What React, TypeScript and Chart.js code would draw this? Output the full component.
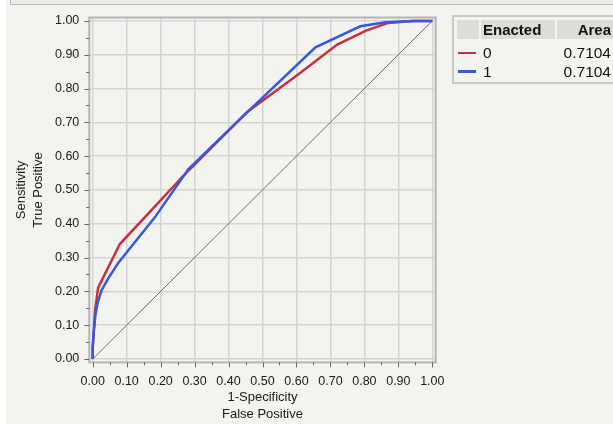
import React, { useEffect, useRef } from "react";
import { Chart, registerables } from "chart.js";

Chart.register(...registerables);

// ROC curve for Enacted = 0
const fprEnacted0 = [0, 0.0, 0.002, 0.007, 0.016, 0.08, 0.169, 0.267, 0.453, 0.6, 0.72, 0.805, 0.87, 0.943, 1.0];
const tprEnacted0 = [0, 0.03, 0.06, 0.144, 0.211, 0.34, 0.436, 0.542, 0.729, 0.838, 0.93, 0.971, 0.994, 1.0, 1.0];
// ROC curve for Enacted = 1
const fprEnacted1 = [0, 0.0, 0.003, 0.008, 0.015, 0.026, 0.045, 0.075, 0.183, 0.282, 0.45, 0.656, 0.788, 0.862, 0.944, 1.0];
const tprEnacted1 = [0, 0.04, 0.08, 0.13, 0.168, 0.203, 0.237, 0.284, 0.419, 0.562, 0.725, 0.922, 0.984, 0.996, 1.0, 1.0];
// reference diagonal
const diagonalX = [0, 1];
const diagonalY = [0, 1];

const axisTicks = [0, 0.1, 0.2, 0.3, 0.4, 0.5, 0.6, 0.7, 0.8, 0.9, 1.0];
const minorTicks = [0.05, 0.15, 0.25, 0.35, 0.45, 0.55, 0.65, 0.75, 0.85, 0.95];
const legendTitle = "Enacted";
const legendAreaTitle = "Area";
const legendGroups = ["0", "1"];
const legendAreas = ["0.7104", "0.7104"];
const seriesColors = ["#c8303e", "#3558e0"];

const FONT = "'Liberation Sans', Arial, Helvetica, sans-serif";

const framePlugin = {
  id: "frameTicks",
  afterDatasetsDraw(chart: any) {
    const { ctx, chartArea } = chart;
    const xs = chart.scales.x;
    const ys = chart.scales.y;
    ctx.save();
    ctx.strokeStyle = "#b4b4b4";
    ctx.lineWidth = 2;
    ctx.strokeRect(chartArea.left, chartArea.top, chartArea.right - chartArea.left, chartArea.bottom - chartArea.top);
    ctx.strokeStyle = "#666";
    ctx.lineWidth = 1;
    ctx.beginPath();
    axisTicks.forEach((v) => {
      const px = Math.round(xs.getPixelForValue(v)) + 0.5;
      ctx.moveTo(px, chartArea.bottom);
      ctx.lineTo(px, chartArea.bottom + 5);
      const py = Math.round(ys.getPixelForValue(v)) + 0.5;
      ctx.moveTo(chartArea.left, py);
      ctx.lineTo(chartArea.left - 5, py);
    });
    minorTicks.forEach((v) => {
      const px = Math.round(xs.getPixelForValue(v)) + 0.5;
      ctx.moveTo(px, chartArea.bottom);
      ctx.lineTo(px, chartArea.bottom + 3);
      const py = Math.round(ys.getPixelForValue(v)) + 0.5;
      ctx.moveTo(chartArea.left, py);
      ctx.lineTo(chartArea.left - 3, py);
    });
    ctx.stroke();
    ctx.restore();
  },
};

export default function App() {
  const canvasRef = useRef<HTMLCanvasElement | null>(null);

  useEffect(() => {
    if (!canvasRef.current) return;
    const toPts = (xs: number[], ys: number[]) => xs.map((x, i) => ({ x, y: ys[i] }));
    const chart = new Chart(canvasRef.current, {
      type: "line",
      data: {
        datasets: [
          {
            label: legendGroups[1],
            data: toPts(fprEnacted1, tprEnacted1),
            borderColor: seriesColors[1],
            borderWidth: 2.5,
            order: 0,
          },
          {
            label: legendGroups[0],
            data: toPts(fprEnacted0, tprEnacted0),
            borderColor: seriesColors[0],
            borderWidth: 2.5,
            order: 1,
          },
          {
            label: "diagonal",
            data: toPts(diagonalX, diagonalY),
            borderColor: "#6e6e6e",
            borderWidth: 1,
            order: 2,
          },
        ],
      },
      options: {
        animation: false,
        responsive: false,
        maintainAspectRatio: false,
        layout: { padding: { top: 16, right: 177.3, bottom: 0, left: 0 } },
        elements: { point: { radius: 0 }, line: { tension: 0, fill: false } },
        plugins: { legend: { display: false }, tooltip: { enabled: false } },
        scales: {
          x: {
            type: "linear",
            min: -0.01,
            max: 1.01,
            afterBuildTicks: (s: any) => {
              s.ticks = axisTicks.map((v) => ({ value: v }));
            },
            afterFit: (s: any) => {
              s.height = 61.6;
            },
            grid: { color: "#d4d4d4", lineWidth: 1.5, drawTicks: false },
            border: { display: false },
            ticks: {
              padding: 12,
              autoSkip: false,
              maxRotation: 0,
              color: "#1a1a1a",
              font: { family: FONT, size: 12.5 },
              callback: (v: any) => Number(v).toFixed(2),
            },
            title: {
              display: true,
              text: ["1-Specificity", "False Positive"],
              color: "#1a1a1a",
              font: { family: FONT, size: 13, lineHeight: "17px" },
              padding: { top: 0, bottom: 1.5 },
            },
          },
          y: {
            type: "linear",
            min: -0.01,
            max: 1.01,
            afterBuildTicks: (s: any) => {
              s.ticks = axisTicks.map((v) => ({ value: v }));
            },
            afterFit: (s: any) => {
              s.width = 89.3;
            },
            grid: { color: "#d4d4d4", lineWidth: 1.5, drawTicks: false },
            border: { display: false },
            ticks: {
              padding: 10,
              autoSkip: false,
              color: "#1a1a1a",
              font: { family: FONT, size: 12.5 },
              callback: (v: any) => Number(v).toFixed(2),
            },
            title: {
              display: true,
              text: ["Sensitivity", "True Positive"],
              color: "#1a1a1a",
              font: { family: FONT, size: 13, lineHeight: "17px" },
              padding: { top: 12.8, bottom: 0 },
            },
          },
        },
      },
      plugins: [framePlugin],
    } as any);
    return () => chart.destroy();
  }, []);

  const headerBg = "#dddcd8";
  const text15: React.CSSProperties = { position: "absolute", fontFamily: FONT, fontSize: 15.5, color: "#111", whiteSpace: "nowrap" };

  return (
    <div style={{ position: "fixed", left: 0, top: 0, width: 613, height: 424, overflow: "hidden", background: "#ffffff" }}>
      <div style={{ position: "absolute", left: 6, top: 0, width: 607, height: 424, background: "#f3f3ef" }} />
      <div style={{ position: "absolute", left: 10, top: -20, width: 620, height: 25, background: "#ebebe7", border: "1px solid #b8b8b8", boxSizing: "border-box" }} />
      <canvas ref={canvasRef} width={613} height={424} style={{ position: "absolute", left: 0, top: 0, width: 613, height: 424 }} />
      <div style={{ position: "absolute", left: 452, top: 15, width: 180, height: 69, border: "2px solid #c8c8c8", boxSizing: "border-box" }} />
      <div style={{ position: "absolute", left: 457, top: 20, width: 22, height: 19, background: headerBg }} />
      <div style={{ position: "absolute", left: 481, top: 20, width: 74, height: 19, background: headerBg }} />
      <div style={{ position: "absolute", left: 557, top: 20, width: 70, height: 19, background: headerBg }} />
      <div style={{ ...text15, fontSize: 15, left: 483, top: 20, height: 19, lineHeight: "19px", fontWeight: "bold" }}>{legendTitle}</div>
      <div style={{ ...text15, fontSize: 15, left: 557, width: 54, textAlign: "right", top: 20, height: 19, lineHeight: "19px", fontWeight: "bold" }}>{legendAreaTitle}</div>
      {legendGroups.map((g, i) => (
        <React.Fragment key={g}>
          <div style={{ position: "absolute", left: 458, top: 51.5 + i * 18.5, width: 18, height: 2.5, background: seriesColors[i] }} />
          <div style={{ ...text15, left: 483, top: 43 + i * 18.5, height: 19, lineHeight: "19px" }}>{g}</div>
          <div style={{ ...text15, left: 557, width: 54, textAlign: "right", top: 43 + i * 18.5, height: 19, lineHeight: "19px" }}>{legendAreas[i]}</div>
        </React.Fragment>
      ))}
    </div>
  );
}
